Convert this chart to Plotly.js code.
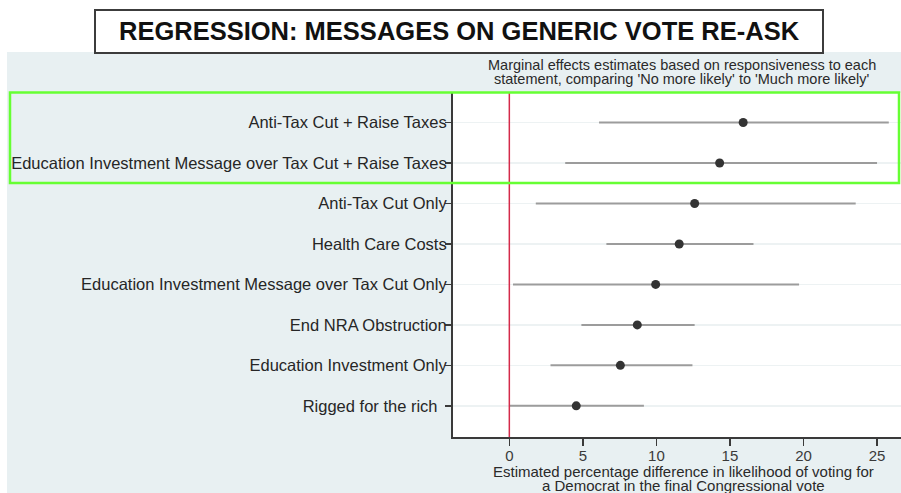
<!DOCTYPE html>
<html>
<head>
<meta charset="utf-8">
<script src="https://cdn.plot.ly/plotly-3.0.1.min.js"></script>
<style>
  html, body { margin: 0; padding: 0; background: #ffffff; }
  #chart { width: 901px; height: 493px; }
</style>
</head>
<body>
<div id="chart"></div>
<script>
// Messages, listed top to bottom
const messages = [
  "Anti-Tax Cut + Raise Taxes",
  "Education Investment Message over Tax Cut + Raise Taxes",
  "Anti-Tax Cut Only",
  "Health Care Costs",
  "Education Investment Message over Tax Cut Only",
  "End NRA Obstruction",
  "Education Investment Only",
  "Rigged for the rich\u00a0\u00a0"
];

// Marginal effect estimates (percentage points) and 95% interval bounds
const estimates = [15.9, 14.3, 12.6, 11.55, 9.95, 8.7, 7.55, 4.55];
const ciLow     = [6.1, 3.8, 1.8, 6.6, 0.25, 4.9, 2.8, 0.0];
const ciHigh    = [25.8, 25.0, 23.55, 16.6, 19.7, 12.6, 12.45, 9.15];

const xTicks = [0, 5, 10, 15, 20, 25];

// Figure geometry (pixels)
const W = 901, H = 493;
const M = { l: 453, r: 0, t: 93, b: 56 };
const plotW = W - M.l - M.r, plotH = H - M.t - M.b;
const px = x => (x - M.l) / plotW;          // pixel x -> paper x
const py = y => (H - M.b - y) / plotH;      // pixel y -> paper y

const FONT = "Liberation Sans, Arial, sans-serif";
const BG = "#e8f0f2";

const trace = {
  type: "scatter",
  mode: "markers",
  x: estimates,
  y: messages,
  marker: { size: 9, color: "#333333" },
  error_x: {
    type: "data",
    symmetric: false,
    array: estimates.map((e, i) => ciHigh[i] - e),
    arrayminus: estimates.map((e, i) => e - ciLow[i]),
    color: "#9c9c9c",
    thickness: 2,
    width: 0
  },
  hoverinfo: "x+y",
  showlegend: false
};

const layout = {
  width: W,
  height: H,
  margin: M,
  paper_bgcolor: BG,
  plot_bgcolor: "#ffffff",
  font: { family: FONT, size: 14, color: "#2a2a2a" },
  showlegend: false,
  xaxis: {
    range: [-3.83, 26.63],
    tickvals: xTicks,
    ticktext: xTicks.map(String),
    showgrid: false,
    zeroline: false,
    showline: true,
    linecolor: "#3a3a3a",
    linewidth: 2,
    ticks: "outside",
    ticklen: 7,
    tickwidth: 1.5,
    tickcolor: "#3a3a3a",
    ticklabelstandoff: -3,
    tickfont: { family: FONT, size: 15, color: "#3a3a3a" },
    fixedrange: true
  },
  yaxis: {
    type: "category",
    categoryorder: "array",
    categoryarray: messages,
    range: [7.77, -0.73],
    showgrid: true,
    gridcolor: "#edf2f3",
    gridwidth: 1.5,
    zeroline: false,
    showline: true,
    linecolor: "#3a3a3a",
    linewidth: 2,
    ticks: "outside",
    ticklen: 6,
    tickwidth: 1.5,
    tickcolor: "#3a3a3a",
    ticklabelstandoff: -5,
    tickfont: { family: FONT, size: 16.5, color: "#262626" },
    fixedrange: true
  },
  shapes: [
    // white band above the chart panel and thin white strip on the left
    { type: "rect", xref: "paper", yref: "paper", layer: "below",
      x0: px(0), x1: px(W), y0: py(52), y1: py(0),
      fillcolor: "#ffffff", line: { width: 0 } },
    { type: "rect", xref: "paper", yref: "paper", layer: "below",
      x0: px(0), x1: px(7), y0: py(H), y1: py(0),
      fillcolor: "#ffffff", line: { width: 0 } },
    // title box
    { type: "rect", xref: "paper", yref: "paper",
      x0: px(95), x1: px(823), y0: py(53), y1: py(10),
      fillcolor: "#ffffff", line: { color: "#3c3c3c", width: 2 } },
    // zero reference line
    { type: "line", xref: "x", yref: "paper",
      x0: 0, x1: 0, y0: 0, y1: 1,
      line: { color: "#d42a4a", width: 1.5 } },
    // highlight around the two top messages
    { type: "rect", xref: "paper", yref: "paper",
      x0: px(10), x1: px(899), y0: py(183), y1: py(92.5),
      fillcolor: "rgba(0,0,0,0)", line: { color: "#66ff33", width: 2.5 } }
  ],
  annotations: [
    { xref: "paper", yref: "paper", x: px(459), y: py(30.5),
      xanchor: "center", yanchor: "middle", showarrow: false,
      text: "<b>REGRESSION: MESSAGES ON GENERIC VOTE RE-ASK</b>",
      font: { family: FONT, size: 25.5, color: "#111111" } },
    { xref: "paper", yref: "paper", x: px(682), y: py(65),
      xanchor: "center", yanchor: "middle", showarrow: false,
      text: "Marginal effects estimates based on responsiveness to each",
      font: { family: FONT, size: 14.5, color: "#2a2a2a" } },
    { xref: "paper", yref: "paper", x: px(682), y: py(78.5),
      xanchor: "center", yanchor: "middle", showarrow: false,
      text: "statement, comparing 'No more likely' to 'Much more likely'",
      font: { family: FONT, size: 14.5, color: "#2a2a2a" } },
    { xref: "paper", yref: "paper", x: px(683), y: py(471),
      xanchor: "center", yanchor: "middle", showarrow: false,
      text: "Estimated percentage difference in likelihood of voting for",
      font: { family: FONT, size: 15, color: "#2a2a2a" } },
    { xref: "paper", yref: "paper", x: px(683), y: py(485.5),
      xanchor: "center", yanchor: "middle", showarrow: false,
      text: "a Democrat in the final Congressional vote",
      font: { family: FONT, size: 15, color: "#2a2a2a" } }
  ]
};

Plotly.newPlot("chart", [trace], layout, { displayModeBar: false, staticPlot: true });
</script>
</body>
</html>
